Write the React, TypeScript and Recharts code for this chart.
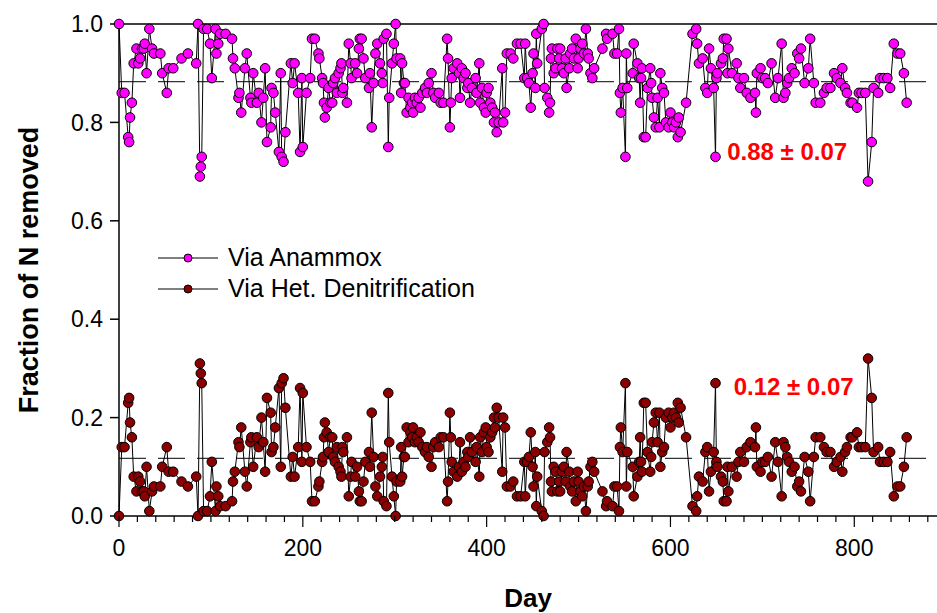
import { LineChart, Line, XAxis, YAxis, ReferenceLine, ReferenceDot, Label } from "recharts";

const days = [
  0, 3, 6, 10, 11, 12, 14, 16, 19, 21,
  23, 25, 27, 28, 30, 33, 36, 38, 45, 47,
  52, 54, 59, 68, 75, 84, 86, 88, 89, 90,
  92, 96, 99, 101, 105, 106, 108, 110, 116, 123,
  124, 126, 130, 131, 133, 137, 139, 143, 144, 146,
  150, 152, 155, 157, 159, 161, 165, 166, 168, 170,
  174, 176, 177, 179, 181, 187, 189, 191, 195, 197,
  199, 200, 204, 208, 210, 213, 217, 218, 221, 222,
  223, 224, 226, 228, 230, 232, 233, 235, 237, 239,
  241, 242, 243, 244, 248, 250, 252, 253, 257, 259,
  261, 262, 264, 266, 268, 272, 273, 275, 277, 279,
  281, 284, 286, 287, 288, 291, 293, 294, 297, 299,
  301, 302, 306, 307, 308, 310, 311, 313, 315, 317,
  319, 320, 322, 324, 326, 328, 330, 333, 335, 337,
  340, 342, 344, 348, 350, 353, 357, 358, 360, 361,
  362, 364, 368, 370, 371, 373, 375, 377, 379, 380,
  382, 384, 388, 389, 392, 393, 395, 397, 399, 400,
  402, 404, 406, 408, 409, 411, 413, 417, 418, 420,
  422, 426, 429, 433, 437, 441, 442, 444, 446, 448,
  450, 451, 453, 454, 455, 460, 462, 463, 466, 468,
  469, 470, 471, 473, 475, 477, 479, 480, 482, 484,
  486, 487, 490, 491, 493, 495, 497, 499, 500, 502,
  504, 506, 508, 510, 511, 513, 515, 517, 526, 530,
  531, 537, 539, 542, 544, 545, 546, 548, 551, 552,
  553, 559, 560, 564, 566, 567, 568, 569, 571, 573,
  575, 578, 579, 580, 582, 584, 586, 588, 589, 591,
  593, 595, 598, 600, 602, 604, 606, 608, 609, 611,
  617, 624, 628, 629, 631, 635, 638, 640, 642, 644,
  647, 649, 650, 651, 655, 657, 658, 661, 662, 663,
  667, 672, 674, 676, 680, 683, 687, 692, 693, 694,
  698, 700, 703, 706, 710, 714, 717, 721, 723, 725,
  727, 729, 732, 735, 738, 740, 742, 746, 750, 752,
  756, 758, 763, 767, 770, 774, 778, 781, 785, 787,
  790, 792, 796, 798, 803, 805, 808, 812, 815, 819,
  821, 826, 828, 832, 836, 839, 843, 847, 850, 854, 857,
];

const anammox = [
  1.0, 0.86, 0.86, 0.77, 0.76, 0.81, 0.84, 0.92, 0.95, 0.92,
  0.93, 0.95, 0.95, 0.96, 0.9, 0.99, 0.95, 0.94, 0.94, 0.9,
  0.86, 0.91, 0.91, 0.93, 0.94, 0.92, 1.0, 0.69, 0.71, 0.73,
  0.99, 0.99, 0.96, 0.89, 0.99, 0.94, 0.96, 0.98, 0.98, 0.97,
  0.93, 0.91, 0.85, 0.86, 0.82, 0.91, 0.94, 0.85, 0.84, 0.9,
  0.84, 0.86, 0.8, 0.85, 0.91, 0.76, 0.79, 0.87, 0.86, 0.82,
  0.74, 0.9, 0.73, 0.72, 0.78, 0.92, 0.88, 0.92, 0.86, 0.74,
  0.89, 0.75, 0.86, 0.89, 0.97, 0.97, 0.94, 0.93, 0.89, 0.88,
  0.84, 0.81, 0.83, 0.87, 0.84, 0.84, 0.88, 0.89, 0.86, 0.9,
  0.91, 0.92, 0.86, 0.87, 0.84, 0.96, 0.92, 0.89, 0.92, 0.9,
  0.95, 0.97, 0.97, 0.93, 0.89, 0.87, 0.9, 0.79, 0.88, 0.94,
  0.96, 0.92, 0.9, 0.88, 0.97, 0.98, 0.75, 0.85, 0.92, 0.96,
  1.0, 0.93, 0.93, 0.86, 0.92, 0.88, 0.88, 0.82, 0.85, 0.83,
  0.84, 0.82, 0.85, 0.84, 0.85, 0.83, 0.86, 0.87, 0.86, 0.88,
  0.9, 0.86, 0.85, 0.86, 0.84, 0.84, 0.97, 0.93, 0.79, 0.84,
  0.89, 0.91, 0.92, 0.9, 0.85, 0.91, 0.89, 0.9, 0.87, 0.88,
  0.84, 0.87, 0.89, 0.86, 0.92, 0.84, 0.87, 0.83, 0.82, 0.86,
  0.87, 0.84, 0.83, 0.8, 0.82, 0.78, 0.8, 0.91, 0.8, 0.82,
  0.94, 0.94, 0.93, 0.96, 0.96, 0.89, 0.96, 0.89, 0.88, 0.83,
  0.9, 0.94, 0.87, 0.98, 0.92, 0.99, 1.0, 0.87, 0.85, 0.82,
  0.84, 0.93, 0.95, 0.9, 0.91, 0.95, 0.93, 0.95, 0.91, 0.9,
  0.93, 0.87, 0.91, 0.94, 0.95, 0.93, 0.97, 0.91, 0.93, 0.95,
  0.96, 0.94, 0.99, 0.94, 0.93, 0.9, 0.89, 0.91, 0.95, 0.98,
  0.97, 0.98, 0.94, 0.94, 0.99, 0.86, 0.82, 0.87, 0.73, 0.94,
  0.87, 0.9, 0.96, 0.92, 0.89, 0.84, 0.89, 0.91, 0.77, 0.77,
  0.87, 0.91, 0.88, 0.85, 0.81, 0.79, 0.85, 0.79, 0.9, 0.87,
  0.86, 0.8, 0.79, 0.82, 0.8, 0.79, 0.8, 0.77, 0.81, 0.78,
  0.84, 0.98, 0.99, 0.96, 0.92, 0.93, 0.87, 0.86, 0.95, 0.91,
  0.87, 0.73, 0.89, 0.9, 0.92, 0.93, 0.97, 0.97, 0.9, 0.95,
  0.9, 0.92, 0.89, 0.87, 0.89, 0.86, 0.85, 0.86, 0.82, 0.9,
  0.91, 0.89, 0.89, 0.88, 0.92, 0.85, 0.89, 0.96, 0.85, 0.86,
  0.88, 0.89, 0.91, 0.9, 0.94, 0.93, 0.95, 0.88, 0.91, 0.97,
  0.88, 0.84, 0.84, 0.86, 0.87, 0.87, 0.9, 0.89, 0.88, 0.91,
  0.87, 0.86, 0.84, 0.84, 0.83, 0.86, 0.86, 0.86, 0.68, 0.76,
  0.87, 0.86, 0.89, 0.89, 0.89, 0.87, 0.96, 0.94, 0.94, 0.9, 0.84,
];

const hetDenit = [
  0.0, 0.14, 0.14, 0.23, 0.24, 0.19, 0.16, 0.08, 0.05, 0.08,
  0.07, 0.05, 0.05, 0.04, 0.1, 0.01, 0.05, 0.06, 0.06, 0.1,
  0.14, 0.09, 0.09, 0.07, 0.06, 0.08, 0.0, 0.31, 0.29, 0.27,
  0.01, 0.01, 0.04, 0.11, 0.01, 0.06, 0.04, 0.02, 0.02, 0.03,
  0.07, 0.09, 0.15, 0.14, 0.18, 0.09, 0.06, 0.15, 0.16, 0.1,
  0.16, 0.14, 0.2, 0.15, 0.09, 0.24, 0.21, 0.13, 0.14, 0.18,
  0.26, 0.1, 0.27, 0.28, 0.22, 0.08, 0.12, 0.08, 0.14, 0.26,
  0.11, 0.25, 0.14, 0.11, 0.03, 0.03, 0.06, 0.07, 0.11, 0.12,
  0.16, 0.19, 0.17, 0.13, 0.16, 0.16, 0.12, 0.11, 0.14, 0.1,
  0.09, 0.08, 0.14, 0.13, 0.16, 0.04, 0.08, 0.11, 0.08, 0.1,
  0.05, 0.03, 0.03, 0.07, 0.11, 0.13, 0.1, 0.21, 0.12, 0.06,
  0.04, 0.08, 0.1, 0.12, 0.03, 0.02, 0.25, 0.15, 0.08, 0.04,
  0.0, 0.07, 0.07, 0.14, 0.08, 0.12, 0.12, 0.18, 0.15, 0.17,
  0.16, 0.18, 0.15, 0.16, 0.15, 0.17, 0.14, 0.13, 0.14, 0.12,
  0.1, 0.14, 0.15, 0.14, 0.16, 0.16, 0.03, 0.07, 0.21, 0.16,
  0.11, 0.09, 0.08, 0.1, 0.15, 0.09, 0.11, 0.1, 0.13, 0.12,
  0.16, 0.13, 0.11, 0.14, 0.08, 0.16, 0.13, 0.17, 0.18, 0.14,
  0.13, 0.16, 0.17, 0.2, 0.18, 0.22, 0.2, 0.09, 0.2, 0.18,
  0.06, 0.06, 0.07, 0.04, 0.04, 0.11, 0.04, 0.11, 0.12, 0.17,
  0.1, 0.06, 0.13, 0.02, 0.08, 0.01, 0.0, 0.13, 0.15, 0.18,
  0.16, 0.07, 0.05, 0.1, 0.09, 0.05, 0.07, 0.05, 0.09, 0.1,
  0.07, 0.13, 0.09, 0.06, 0.05, 0.07, 0.03, 0.09, 0.07, 0.05,
  0.04, 0.06, 0.01, 0.06, 0.07, 0.1, 0.11, 0.09, 0.05, 0.02,
  0.03, 0.02, 0.06, 0.06, 0.01, 0.14, 0.18, 0.13, 0.27, 0.06,
  0.13, 0.1, 0.04, 0.08, 0.11, 0.16, 0.11, 0.09, 0.23, 0.23,
  0.13, 0.09, 0.12, 0.15, 0.19, 0.21, 0.15, 0.21, 0.1, 0.13,
  0.14, 0.2, 0.21, 0.18, 0.2, 0.21, 0.2, 0.23, 0.19, 0.22,
  0.16, 0.02, 0.01, 0.04, 0.08, 0.07, 0.13, 0.14, 0.05, 0.09,
  0.13, 0.27, 0.11, 0.1, 0.08, 0.07, 0.03, 0.03, 0.1, 0.05,
  0.1, 0.08, 0.11, 0.13, 0.11, 0.14, 0.15, 0.14, 0.18, 0.1,
  0.09, 0.11, 0.11, 0.12, 0.08, 0.15, 0.11, 0.04, 0.15, 0.14,
  0.12, 0.11, 0.09, 0.1, 0.06, 0.07, 0.05, 0.12, 0.09, 0.03,
  0.12, 0.16, 0.16, 0.14, 0.13, 0.13, 0.1, 0.11, 0.12, 0.09,
  0.13, 0.14, 0.16, 0.16, 0.17, 0.14, 0.14, 0.14, 0.32, 0.24,
  0.13, 0.14, 0.11, 0.11, 0.11, 0.13, 0.04, 0.06, 0.06, 0.1, 0.16,
];

const yTicks = [0, 0.2, 0.4, 0.6, 0.8, 1.0];
const xMajorTicks = [0, 200, 400, 600, 800];
const xAllTicks = Array.from({ length: 45 }, (_, i) => i * 20);

const anammoxMean = 0.883;
const hetMean = 0.117;

const FONT = "Arial, 'Liberation Sans', Helvetica, sans-serif";

const data = days.map((d, i) => ({ day: d, anammox: anammox[i], het: hetDenit[i] }));

function XTick(props: any) {
  const { x, y, payload } = props;
  const major = xMajorTicks.includes(payload.value);
  return (
    <g>
      <line x1={x} x2={x} y1={y} y2={y + (major ? 11 : 6)} stroke="#000" strokeWidth={1.2} />
      {major && (
        <text x={x} y={y + 40} textAnchor="middle" fontSize={23} fontFamily={FONT} fill="#000">
          {payload.value}
        </text>
      )}
    </g>
  );
}

function LegendBox() {
  const rows = [
    { label: "Via Anammox", fill: "#ff00ff" },
    { label: "Via Het. Denitrification", fill: "#8b0000" },
  ];
  return (
    <div style={{ position: "absolute", left: 158, top: 242, fontFamily: FONT, fontSize: 25, color: "#000" }}>
      {rows.map((r) => (
        <div key={r.label} style={{ display: "flex", alignItems: "center", height: 31 }}>
          <svg width={66} height={12}>
            <line x1={0} x2={60} y1={6} y2={6} stroke="#000" strokeWidth={1} />
            <circle cx={30} cy={6} r={4} fill={r.fill} stroke="#000" strokeWidth={1} />
          </svg>
          <span style={{ marginLeft: 4 }}>{r.label}</span>
        </div>
      ))}
    </div>
  );
}

export default function App() {
  return (
    <div style={{ position: "absolute", left: 0, top: 0, width: 937, height: 613, background: "#fff" }}>
      <LineChart width={937} height={613} data={data} margin={{ top: 24, right: 0, bottom: 37, left: 0 }}>
        <XAxis
          dataKey="day"
          type="number"
          domain={[0, 890]}
          ticks={xAllTicks}
          interval={0}
          tickLine={false}
          tickSize={0}
          tickMargin={0}
          tick={<XTick />}
          height={60}
          stroke="#000"
          strokeWidth={1.5}
        >
          <Label
            content={() => (
              <text x={528} y={607} textAnchor="middle" fontSize={26} fontWeight="bold" fontFamily={FONT} fill="#000">
                Day
              </text>
            )}
          />
        </XAxis>
        <YAxis
          type="number"
          domain={[0, 1]}
          ticks={yTicks}
          tickFormatter={(v) => v.toFixed(1)}
          width={119}
          tickSize={9}
          tickMargin={7}
          tick={{ fill: "#000", fontSize: 23, fontFamily: FONT }}
          stroke="#000"
          strokeWidth={1.5}
        >
          <Label
            content={() => (
              <text
                x={29}
                y={270}
                textAnchor="middle"
                dominantBaseline="central"
                transform="rotate(-90, 29, 270)"
                fontSize={27}
                fontWeight="bold"
                fontFamily={FONT}
                fill="#000"
              >
                Fraction of N removed
              </text>
            )}
          />
        </YAxis>
        <ReferenceLine y={1} stroke="#000" strokeWidth={1.5} />
        <ReferenceLine y={anammoxMean} stroke="#333" strokeWidth={1.2} strokeDasharray="27 12" />
        <ReferenceLine y={hetMean} stroke="#333" strokeWidth={1.2} strokeDasharray="27 12" />
        <Line
          dataKey="anammox"
          stroke="#000"
          strokeWidth={1}
          dot={{ r: 4.8, fill: "#ff00ff", stroke: "#000", strokeWidth: 1 }}
          isAnimationActive={false}
        />
        <Line
          dataKey="het"
          stroke="#000"
          strokeWidth={1}
          dot={{ r: 4.8, fill: "#8b0000", stroke: "#000", strokeWidth: 1 }}
          isAnimationActive={false}
        />
        <ReferenceDot
          x={727}
          y={0.74}
          r={0}
          label={{ value: "0.88 ± 0.07", position: "center", fill: "#ff0000", fontSize: 24, fontWeight: "bold", fontFamily: FONT }}
        />
        <ReferenceDot
          x={734}
          y={0.263}
          r={0}
          label={{ value: "0.12 ± 0.07", position: "center", fill: "#ff0000", fontSize: 24, fontWeight: "bold", fontFamily: FONT }}
        />
      </LineChart>
      <LegendBox />
    </div>
  );
}
